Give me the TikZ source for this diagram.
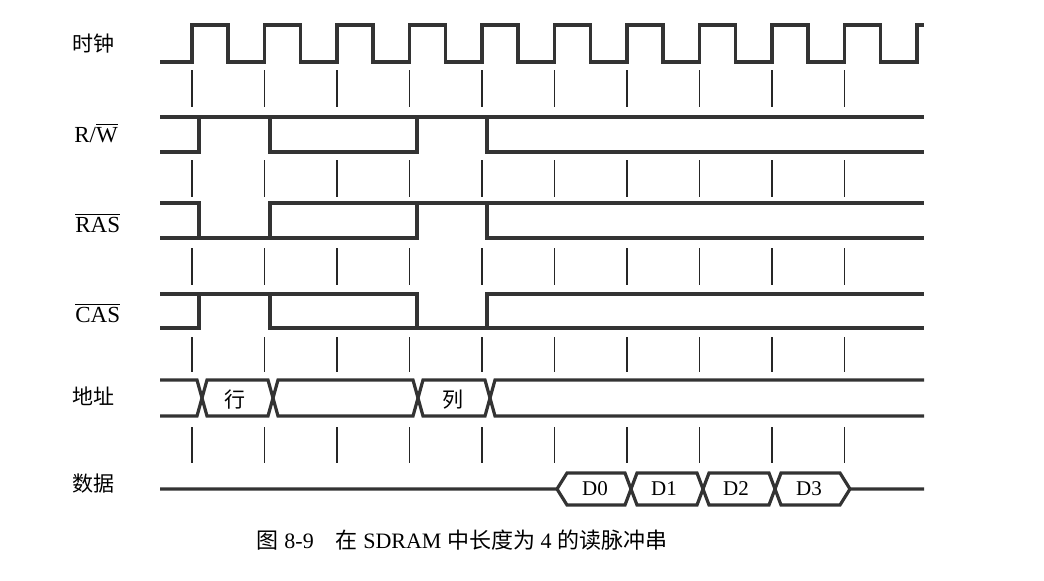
\documentclass[tikz,border=0pt]{standalone}
\usepackage{fontspec}
\setmainfont{Liberation Serif}
\newfontfamily\cjk{Noto Sans CJK SC}
\usetikzlibrary{calc}
\tikzset{
	every node/.style={
		align=center, inner sep=0pt,
	},
	sig/.style={line width=1.6pt, black!80, line join=miter},
	tick/.style={line width=0.9pt, black!85},
	lbl/.style={anchor=base west, font=\fontsize{11.5}{13}\selectfont},
	clbl/.style={anchor=west, font=\fontsize{10.5}{12}\selectfont\cjk},
}

\begin{document}
\begin{tikzpicture}[x=0.5pt, y=-0.5pt]
		\useasboundingbox (0,0) rectangle (1044,580);
		
		\node[clbl] (clk) at (72,44) {时钟};
		\node[lbl] (rw) at (74,142) {R/$\overline{\hbox{W}}$};
		\node[lbl] (ras) at (75,232) {$\overline{\hbox{RAS}}$};
		\node[lbl] (cas) at (75,322) {$\overline{\hbox{CAS}}$};
		\node[clbl] (addr) at (72,396) {地址};
		\node[clbl] (data) at (72,484) {数据};
		
		% clock
		\draw[sig] (160,62) foreach \i in {0,...,9} { -- ({192+72.5*\i},62) -- ++(0,-37) -- ++(36,0) -- ++(0,37) } -- (917,62) -- (917,25) -- (924,25);
		
		\foreach \i in {0,...,9}
			\foreach \ya/\yb in {70/107, 160/197, 248/285, 337/372, 427/463}
				\draw[tick] ({192+72.5*\i},\ya) -- ({192+72.5*\i},\yb);
		
		% R/W
		\draw[sig] (160,117) -- (924,117);
		\draw[sig] (160,152) -- (199,152) -- (199,117);
		\draw[sig] (270,117) -- (270,152) -- (417,152) -- (417,117);
		\draw[sig] (487,117) -- (487,152) -- (924,152);
		
		% RAS
		\draw[sig] (160,203) -- (199,203) -- (199,238);
		\draw[sig] (160,238) -- (417,238) -- (417,203);
		\draw[sig] (270,238) -- (270,203) -- (924,203);
		\draw[sig] (487,203) -- (487,238) -- (924,238);
		
		% CAS
		\draw[sig] (160,294) -- (417,294) -- (417,328);
		\draw[sig] (160,328) -- (199,328) -- (199,294);
		\draw[sig] (270,294) -- (270,328) -- (487,328) -- (487,294) -- (924,294);
		\draw[sig] (487,328) -- (924,328);
		
		% address bus
		\draw[sig] (160,380) -- (197,380) -- (207,416) -- (268,416) -- (278,380) -- (413,380) -- (423,416) -- (485,416) -- (495,380) -- (924,380);
		\draw[sig] (160,416) -- (197,416) -- (207,380) -- (268,380) -- (278,416) -- (413,416) -- (423,380) -- (485,380) -- (495,416) -- (924,416);
		\node[clbl, anchor=center] (row) at (235,400) {行};
		\node[clbl, anchor=center] (col) at (453,400) {列};
		
		% data bus
		\draw[sig] (160,489) -- (557,489) -- (567,473) -- (625,473) -- (637,505) -- (697,505) -- (709,473) -- (769,473) -- (781,505) -- (840,505) -- (850,489) -- (924,489);
		\draw[sig] (557,489) -- (567,505) -- (625,505) -- (637,473) -- (697,473) -- (709,505) -- (769,505) -- (781,473) -- (840,473) -- (850,489);
		\foreach \d/\x in {0/595, 1/664, 2/736, 3/809}
			\node[font=\fontsize{10.5}{12}\selectfont] (d\d) at (\x,489) {D\d};
		
		\node[font=\fontsize{11}{13}\selectfont] (cap) at (462,540) {{\cjk 图}\ 8-9\quad{\cjk 在}\ SDRAM\ {\cjk 中长度为}\ 4\ {\cjk 的读脉冲串}};
		
	\end{tikzpicture}
\end{document}
